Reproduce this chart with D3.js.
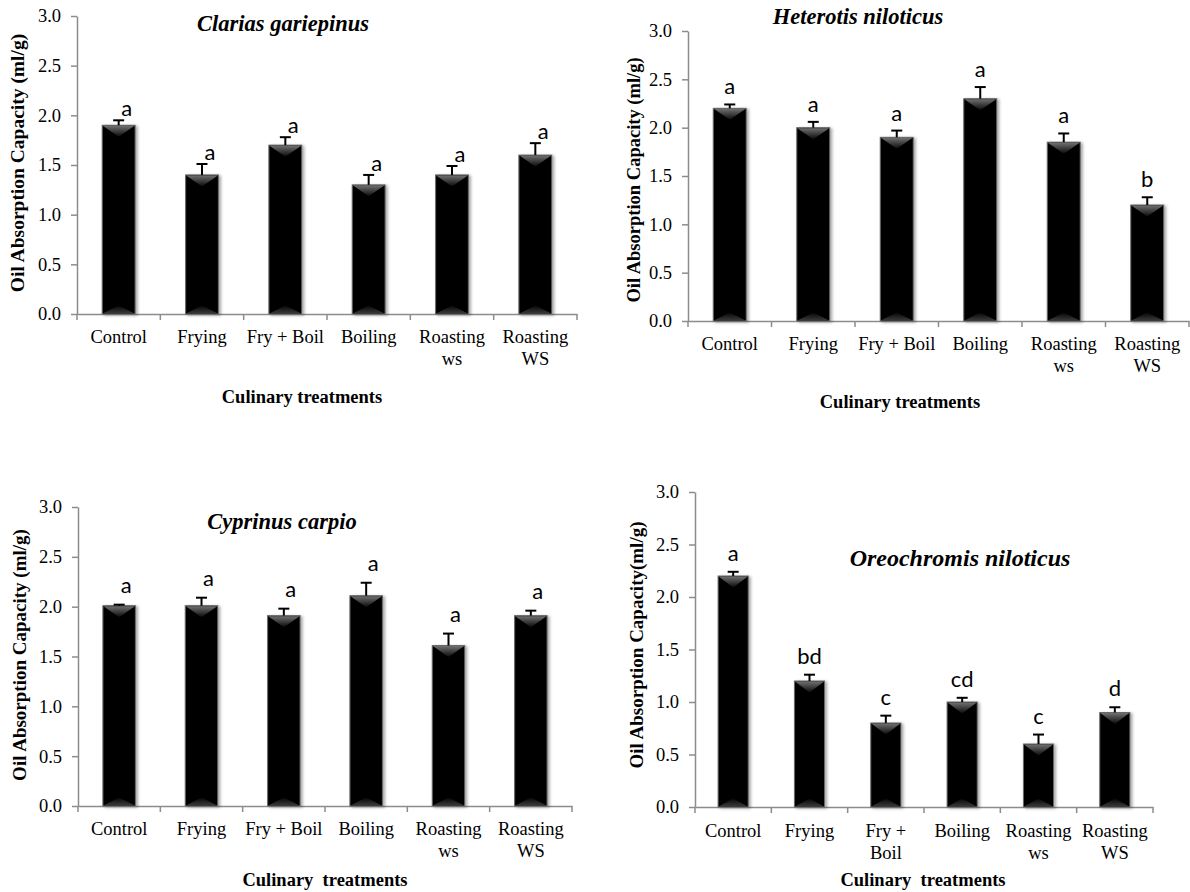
<!DOCTYPE html>
<html>
<head>
<meta charset="utf-8">
<script src="https://cdn.jsdelivr.net/npm/d3@7"></script>
<style>
  body { margin: 0; background: #fff; }
  .serif { font-family: 'Liberation Serif', 'Times New Roman', serif; }
  .sans { font-family: Lato, Carlito, sans-serif; }
</style>
</head>
<body>
<script>
// treatments on the x axis, shared by all four panels
const categories = ['Control', 'Frying', 'Fry + Boil', 'Boiling', 'Roasting ws', 'Roasting WS'];
const tickLines = [['Control'], ['Frying'], ['Fry + Boil'], ['Boiling'], ['Roasting', 'ws'], ['Roasting', 'WS']];
const tickLinesNarrow = [['Control'], ['Frying'], ['Fry +', 'Boil'], ['Boiling'], ['Roasting', 'ws'], ['Roasting', 'WS']];
const yTicks = [0, 0.5, 1.0, 1.5, 2.0, 2.5, 3.0];

// oil absorption capacity (ml/g), mean and upper error
const clariasMeans = [1.9, 1.4, 1.7, 1.3, 1.4, 1.6];
const clariasErr = [0.05, 0.11, 0.08, 0.10, 0.09, 0.12];
const clariasLetters = ['a', 'a', 'a', 'a', 'a', 'a'];

const heterotisMeans = [2.2, 2.0, 1.9, 2.3, 1.85, 1.2];
const heterotisErr = [0.04, 0.06, 0.07, 0.12, 0.09, 0.08];
const heterotisLetters = ['a', 'a', 'a', 'a', 'a', 'b'];

const cyprinusMeans = [2.01, 2.01, 1.91, 2.11, 1.61, 1.91];
const cyprinusErr = [0.01, 0.08, 0.07, 0.13, 0.12, 0.05];
const cyprinusLetters = ['a', 'a', 'a', 'a', 'a', 'a'];

const oreochromisMeans = [2.2, 1.2, 0.8, 1.0, 0.6, 0.9];
const oreochromisErr = [0.04, 0.06, 0.07, 0.04, 0.09, 0.05];
const oreochromisLetters = ['a', 'bd', 'c', 'cd', 'c', 'd'];

const width = 1190,
  height = 892,
  axisGrey = '#8c8c8c';

const svg = d3
  .select('body')
  .append('svg')
  .attr('width', width)
  .attr('height', height);

const defs = svg.append('defs');
const shadow = defs.append('filter').attr('id', 'shadow')
  .attr('x', '-30%').attr('y', '-10%').attr('width', '160%').attr('height', '120%');
shadow.append('feDropShadow')
  .attr('dx', 2).attr('dy', 1).attr('stdDeviation', 1.8)
  .attr('flood-color', '#000').attr('flood-opacity', 0.35);

const topGrad = defs.append('linearGradient').attr('id', 'bevelTop')
  .attr('x1', 0).attr('y1', 0).attr('x2', 0).attr('y2', 1);
topGrad.append('stop').attr('offset', '0%').attr('stop-color', '#707070');
topGrad.append('stop').attr('offset', '100%').attr('stop-color', '#0a0a0a');

const botGrad = defs.append('linearGradient').attr('id', 'bevelBot')
  .attr('x1', 0).attr('y1', 1).attr('x2', 0).attr('y2', 0);
botGrad.append('stop').attr('offset', '0%').attr('stop-color', '#3a3a3a');
botGrad.append('stop').attr('offset', '100%').attr('stop-color', '#050505');

const panels = [
  {
    title: 'Clarias gariepinus', means: clariasMeans, err: clariasErr, letters: clariasLetters,
    lines: tickLines, x0: 77, x1: 577, yTop: 16, yBase: 314,
    titleX: 283, titleY: 31, titleSize: 22.5,
    yLabel: 'Oil Absorption Capacity (ml/g)', yLabelX: 24, yLabelY: 163, yLabelSize: 19.5,
    xLabel: 'Culinary treatments', xLabelX: 302, xLabelY: 403, labY: 343,
    letterDx: 8, letterGap: 4
  },
  {
    title: 'Heterotis niloticus', means: heterotisMeans, err: heterotisErr, letters: heterotisLetters,
    lines: tickLines, x0: 688, x1: 1189, yTop: 31, yBase: 321,
    titleX: 858, titleY: 24, titleSize: 22.5,
    yLabel: 'Oil Absorption Capacity (ml/g)', yLabelX: 640, yLabelY: 180, yLabelSize: 18.5,
    xLabel: 'Culinary treatments', xLabelX: 900, xLabelY: 408, labY: 350,
    letterDx: 0, letterGap: 10
  },
  {
    title: 'Cyprinus carpio', means: cyprinusMeans, err: cyprinusErr, letters: cyprinusLetters,
    lines: tickLines, x0: 78, x1: 572, yTop: 507, yBase: 806,
    titleX: 282, titleY: 529, titleSize: 22.5,
    yLabel: 'Oil Absorption Capacity (ml/g)', yLabelX: 26, yLabelY: 655, yLabelSize: 19,
    xLabel: 'Culinary  treatments', xLabelX: 325, xLabelY: 886, labY: 835,
    letterDx: 7, letterGap: 12
  },
  {
    title: 'Oreochromis niloticus', means: oreochromisMeans, err: oreochromisErr, letters: oreochromisLetters,
    lines: tickLinesNarrow, x0: 695, x1: 1153, yTop: 492, yBase: 807,
    titleX: 960, titleY: 566, titleSize: 24,
    yLabel: 'Oil Absorption Capacity(ml/g)', yLabelX: 643, yLabelY: 645, yLabelSize: 19,
    xLabel: 'Culinary  treatments', xLabelX: 923, xLabelY: 886, labY: 837,
    letterDx: 0, letterGap: 11
  }
];

panels.forEach(drawPanel);

function drawPanel(p) {
  const g = svg.append('g');

  const x = d3
    .scaleBand()
    .domain(categories)
    .range([p.x0, p.x1])
    .paddingInner(0.605)
    .paddingOuter(0.3025);

  const y = d3.scaleLinear().domain([0, 3]).range([p.yBase, p.yTop]);

  // y axis
  const ya = g
    .append('g')
    .attr('transform', `translate(${p.x0},0)`)
    .call(d3.axisLeft(y).tickValues(yTicks).tickFormat(d3.format('.1f')).tickSize(6).tickSizeOuter(0).tickPadding(10));
  ya.attr('font-family', null);
  ya.select('.domain').attr('stroke', axisGrey).attr('stroke-width', 1.5);
  ya.selectAll('.tick line').attr('stroke', axisGrey).attr('stroke-width', 1.5);
  ya.selectAll('.tick text')
    .attr('class', 'serif')
    .attr('font-size', 18.5)
    .attr('fill', '#000');

  // x axis: labels at band centres, ticks at band edges
  const xa = g
    .append('g')
    .attr('transform', `translate(0,${p.yBase})`)
    .call(d3.axisBottom(x).tickSize(0).tickSizeOuter(0));
  xa.attr('font-family', null);
  xa.select('.domain').attr('stroke', axisGrey).attr('stroke-width', 1.5);
  xa.selectAll('.tick text').each(function (d, i) {
    const t = d3.select(this).text(null).attr('dy', null).attr('y', null)
      .attr('class', 'serif').attr('font-size', 18.5).attr('fill', '#000');
    p.lines[i].forEach((s, j) => {
      t.append('tspan').attr('x', 0).attr('y', p.labY - p.yBase + j * 21.5).text(s);
    });
  });
  xa.selectAll('.edge')
    .data(d3.range(categories.length + 1))
    .join('line')
    .attr('class', 'edge')
    .attr('x1', i => p.x0 + i * x.step())
    .attr('x2', i => p.x0 + i * x.step())
    .attr('y1', 0)
    .attr('y2', 6)
    .attr('stroke', axisGrey)
    .attr('stroke-width', 1.5);

  // bars
  const bars = g
    .selectAll('.bar')
    .data(p.means)
    .join('g')
    .attr('class', 'bar');

  bars.append('rect')
    .attr('x', (d, i) => x(categories[i]))
    .attr('y', d => y(d))
    .attr('width', x.bandwidth())
    .attr('height', d => p.yBase - y(d))
    .attr('fill', '#050505')
    .attr('stroke', '#6a6a6a')
    .attr('stroke-width', 1)
    .attr('filter', 'url(#shadow)');

  bars.append('path')
    .attr('d', (d, i) => {
      const bx = x(categories[i]), bw = x.bandwidth(), top = y(d) + 0.5;
      return `M${bx + 0.5},${top}L${bx + bw - 0.5},${top}L${bx + bw / 2},${top + 11}Z`;
    })
    .attr('fill', 'url(#bevelTop)');

  bars.append('path')
    .attr('d', (d, i) => {
      const bx = x(categories[i]), bw = x.bandwidth(), bot = p.yBase - 0.5;
      return `M${bx + 0.5},${bot}L${bx + bw - 0.5},${bot}L${bx + bw / 2},${bot - 8}Z`;
    })
    .attr('fill', 'url(#bevelBot)');

  // error bars (upper half only)
  const cx = i => x(categories[i]) + x.bandwidth() / 2;
  bars.append('line')
    .attr('x1', (d, i) => cx(i))
    .attr('x2', (d, i) => cx(i))
    .attr('y1', d => y(d))
    .attr('y2', (d, i) => y(d + p.err[i]))
    .attr('stroke', '#000')
    .attr('stroke-width', 2);
  bars.append('line')
    .attr('x1', (d, i) => cx(i) - 5.5)
    .attr('x2', (d, i) => cx(i) + 5.5)
    .attr('y1', (d, i) => y(d + p.err[i]))
    .attr('y2', (d, i) => y(d + p.err[i]))
    .attr('stroke', '#000')
    .attr('stroke-width', 2);

  // significance letters
  bars.append('text')
    .attr('class', 'sans')
    .attr('x', (d, i) => cx(i) + p.letterDx)
    .attr('y', (d, i) => y(d + p.err[i]) - p.letterGap)
    .attr('text-anchor', 'middle')
    .attr('font-size', 22)
    .text((d, i) => p.letters[i]);

  // species title
  g.append('text')
    .attr('class', 'serif')
    .attr('x', p.titleX)
    .attr('y', p.titleY)
    .attr('text-anchor', 'middle')
    .attr('font-style', 'italic')
    .attr('font-weight', 'bold')
    .attr('font-size', p.titleSize)
    .text(p.title);

  // axis titles
  g.append('text')
    .attr('class', 'serif')
    .attr('transform', `translate(${p.yLabelX},${p.yLabelY}) rotate(-90)`)
    .attr('text-anchor', 'middle')
    .attr('font-weight', 'bold')
    .attr('font-size', p.yLabelSize)
    .text(p.yLabel);

  g.append('text')
    .attr('class', 'serif')
    .attr('x', p.xLabelX)
    .attr('y', p.xLabelY)
    .attr('text-anchor', 'middle')
    .attr('font-weight', 'bold')
    .attr('font-size', 18.5)
    .style('white-space', 'pre')
    .text(p.xLabel);
}
</script>
</body>
</html>
